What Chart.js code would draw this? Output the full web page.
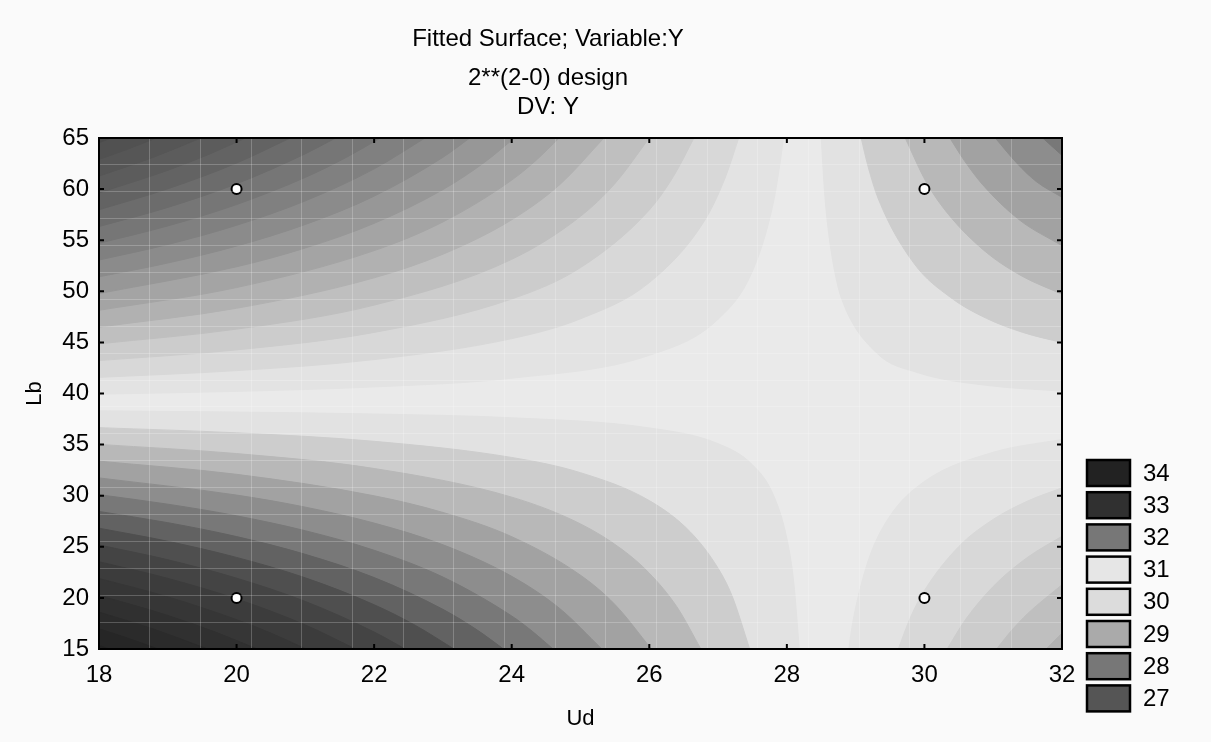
<!DOCTYPE html>
<html>
<head>
<meta charset="utf-8">
<title>Fitted Surface; Variable:Y</title>
<script src="https://cdn.jsdelivr.net/npm/chart.js@4.4.1/dist/chart.umd.min.js"></script>
<style>
    html, body { margin: 0; padding: 0; background: #fafafa; }
    #wrap { position: relative; width: 1211px; height: 742px; }
</style>
</head>
<body>
<div id="wrap"><canvas id="surfaceChart"></canvas></div>
<script>
// assi
const xTicks = [18, 20, 22, 24, 26, 28, 30, 32];
const yTicks = [15, 20, 25, 30, 35, 40, 45, 50, 55, 60, 65];

// punti del piano 2**(2-0)
const designUd = [20, 20, 30, 30];
const designLb = [20, 60, 20, 60];

// curve di livello, [Ud, Lb]
// angolo in basso a sinistra (valori alti, verso 34)
const lowerLeftLines = [
    [[18, 38.3], [20, 38.18], [22, 37.99], [24, 37.62], [26, 36.63], [27, 35.09], [27.5, 33.02], [27.8, 30.13], [28, 25.8], [28.1, 21.5], [28.18, 15]],
    [[18, 36.66], [20, 36.15], [22, 35.32], [24, 33.74], [25, 32.25], [26, 29.52], [26.6, 26.43], [27, 22.9], [27.2, 20.25], [27.46, 15]],
    [[18, 35.02], [20, 34.12], [22, 32.66], [24, 29.86], [25, 27.24], [25.6, 24.76], [26, 22.42], [26.4, 19.14], [26.75, 15]],
    [[18, 33.38], [20, 32.09], [22, 29.99], [23, 28.36], [24, 25.99], [25, 22.22], [25.5, 19.36], [26.03, 15]],
    [[18, 31.74], [20, 30.06], [21, 28.88], [22, 27.32], [23, 25.2], [24, 22.11], [24.7, 18.95], [25.31, 15]],
    [[18, 30.1], [19, 29.17], [20, 28.03], [21, 26.57], [22, 24.66], [23, 22.04], [24, 18.23], [24.3, 16.73], [24.6, 15]],
    [[18, 28.46], [19, 27.36], [20, 26.0], [21, 24.26], [22, 21.99], [23, 18.88], [23.5, 16.85], [23.88, 15]],
    [[18, 26.82], [19, 25.54], [20, 23.96], [21, 21.96], [22, 19.33], [22.6, 17.31], [23.16, 15]],
    [[18, 25.18], [19, 23.73], [20, 21.93], [21, 19.65], [22, 16.66], [22.45, 15]],
    [[18, 23.54], [19, 21.91], [20, 19.9], [21, 17.35], [21.73, 15]],
    [[18, 21.9], [19, 20.1], [20, 17.87], [20.5, 16.55], [21.01, 15]],
    [[18, 20.25], [19, 18.28], [19.7, 16.63], [20.3, 15]],
    [[18, 18.61], [18.8, 16.93], [19.58, 15]],
    [[18, 16.97], [18.4, 16.1], [18.86, 15]],
    [[18, 15.33], [18.15, 15]]
];
// angolo in alto a sinistra (valori bassi, verso 27)
const upperLeftLines = [
    [[18, 39.94], [20, 40.21], [22, 40.65], [24, 41.5], [26, 43.74], [27, 47.27], [27.5, 51.98], [27.8, 58.57], [27.9, 62.52], [27.95, 65]],
    [[18, 41.58], [20, 42.24], [22, 43.32], [24, 45.37], [25, 47.31], [26, 50.85], [26.8, 56.88], [27.1, 61.05], [27.3, 65]],
    [[18, 43.22], [20, 44.27], [22, 45.98], [24, 49.25], [25, 52.32], [26, 57.96], [26.35, 61.23], [26.65, 65]],
    [[18, 44.86], [20, 46.3], [22, 48.65], [24, 53.13], [25, 57.34], [25.5, 60.54], [26.0, 65]],
    [[18, 46.5], [20, 48.34], [22, 51.32], [23, 53.63], [24, 57.0], [24.7, 60.45], [25.34, 65]],
    [[18, 48.14], [20, 50.37], [22, 53.98], [23, 56.79], [24, 60.88], [24.35, 62.79], [24.69, 65]],
    [[18, 49.78], [20, 52.4], [21, 54.24], [22, 56.65], [23, 59.95], [23.6, 62.6], [24.04, 65]],
    [[18, 51.42], [19, 52.77], [20, 54.43], [21, 56.54], [22, 59.31], [23, 63.11], [23.39, 65]],
    [[18, 53.06], [19, 54.58], [20, 56.46], [21, 58.85], [22, 61.98], [22.74, 65]],
    [[18, 54.7], [19, 56.4], [20, 58.49], [21, 61.15], [21.6, 63.12], [22.09, 65]],
    [[18, 56.34], [19, 58.21], [20, 60.52], [21, 63.46], [21.44, 65]],
    [[18, 57.98], [19, 60.03], [20, 62.55], [20.78, 65]],
    [[18, 59.63], [19, 61.84], [19.6, 63.41], [20.13, 65]],
    [[18, 61.27], [18.8, 63.14], [19.48, 65]],
    [[18, 62.91], [18.4, 63.87], [18.83, 65]],
    [[18, 64.55], [18.18, 65]]
];
// angolo in alto a destra (valori alti)
const upperRightLines = [
    [[28.5, 65], [28.55, 59.6], [28.6, 56.13], [28.7, 51.8], [28.8, 49.2], [29.3, 44.0], [29.9, 42.05], [30.9, 40.8], [32, 40.24]],
    [[29.08, 65], [29.18, 62.23], [29.33, 59.04], [29.85, 52.71], [30.38, 49.4], [30.9, 47.36], [31.43, 45.98], [32, 44.98]],
    [[29.72, 65], [30.03, 60.64], [30.35, 57.52], [30.88, 53.92], [31.42, 51.48], [32, 49.72]],
    [[30.37, 65], [30.58, 62.79], [30.84, 60.48], [31.38, 56.99], [32, 54.46]],
    [[31.03, 65], [31.35, 62.49], [31.63, 60.72], [32, 59.2]],
    [[31.72, 65], [32, 63.3]]
];
// angolo in basso a destra (valori bassi)
const lowerRightLines = [
    [[28.9, 15], [28.95, 17.24], [29.0, 19.03], [29.2, 23.97], [29.5, 28.02], [30, 31.39], [31, 34.24], [32, 35.51]],
    [[29.62, 15], [29.8, 18.14], [30, 20.72], [30.5, 25.03], [31, 27.68], [31.5, 29.47], [32, 30.77]],
    [[30.33, 15], [30.6, 17.9], [31, 21.12], [31.5, 23.97], [32, 26.03]],
    [[31.05, 15], [31.25, 16.68], [31.5, 18.46], [32, 21.29]],
    [[31.77, 15], [32, 16.55]]
];

// toni di grigio delle fasce
const saddleColor = '#eaeaea';
const highColors = ['#e2e2e2', '#cdcdcd', '#b8b8b8', '#a2a2a2', '#8d8d8d', '#787878', '#626262', '#4f4f4f',
    '#444444', '#3c3c3c', '#363636', '#303030', '#2b2b2b', '#262626', '#222222'];
const lowColors = ['#e3e3e3', '#d8d8d8', '#cccccc', '#bfbfbf', '#b1b1b1', '#a4a4a4', '#979797', '#8b8b8b',
    '#808080', '#767676', '#6c6c6c', '#636363', '#5c5c5c', '#565656', '#515151', '#4c4c4c'];

// legenda
const legendLevels = ['34', '33', '32', '31', '30', '29', '28', '27'];
const legendColors = ['#222222', '#303030', '#777777', '#e6e6e6', '#dcdcdc', '#aaaaaa', '#777777', '#555555'];

const FONT = 'Liberation Sans, Arial, sans-serif';

function bandDataset(line, color, fillTo) {
    return {
        type: 'line',
        data: line.map(p => ({ x: p[0], y: p[1] })),
        borderColor: color,
        backgroundColor: color,
        borderWidth: 1,
        pointRadius: 0,
        fill: fillTo,
        cubicInterpolationMode: 'monotone'
    };
}

function buildDatasets() {
    const bands = [];
    lowerLeftLines.forEach((l, i) => bands.push(bandDataset(l, highColors[i], 'start')));
    upperRightLines.forEach((l, i) => bands.push(bandDataset(l, highColors[i], 'end')));
    upperLeftLines.forEach((l, i) => bands.push(bandDataset(l, lowColors[i], 'end')));
    lowerRightLines.forEach((l, i) => bands.push(bandDataset(l, lowColors[i], 'start')));
    // il primo disegnato deve avere order piu alto
    bands.forEach((d, i) => { d.order = bands.length - i + 1; });

    bands.push({
        type: 'scatter',
        data: designUd.map((u, i) => ({ x: u, y: designLb[i] })),
        pointRadius: 5,
        pointBackgroundColor: '#ffffff',
        pointBorderColor: '#000000',
        pointBorderWidth: 2,
        order: 0
    });
    return bands;
}

const framePlugin = {
    id: 'frame',
    beforeDraw(chart) {
        const a = chart.chartArea;
        const ctx = chart.ctx;
        ctx.save();
        ctx.fillStyle = saddleColor;
        ctx.fillRect(a.left, a.top, a.right - a.left, a.bottom - a.top);
        ctx.restore();
    },
    afterDraw(chart) {
        const a = chart.chartArea;
        const ctx = chart.ctx;
        const xs = chart.scales.x, ys = chart.scales.y;
        ctx.save();
        ctx.strokeStyle = '#000';
        ctx.lineWidth = 2;
        ctx.strokeRect(a.left, a.top, a.right - a.left, a.bottom - a.top);

        // tacche verso l'interno su tutti i lati
        ctx.beginPath();
        xTicks.forEach(v => {
            const px = xs.getPixelForValue(v);
            ctx.moveTo(px, a.bottom); ctx.lineTo(px, a.bottom - 5);
            ctx.moveTo(px, a.top); ctx.lineTo(px, a.top + 5);
        });
        yTicks.forEach(v => {
            const py = ys.getPixelForValue(v);
            ctx.moveTo(a.left, py); ctx.lineTo(a.left + 5, py);
            ctx.moveTo(a.right, py); ctx.lineTo(a.right - 5, py);
        });
        ctx.stroke();

        // legenda
        const lx = 1087, ly = 460, bw = 43, bh = 26, gap = 32.2;
        ctx.font = '24px ' + FONT;
        ctx.textBaseline = 'middle';
        ctx.textAlign = 'left';
        legendLevels.forEach((lab, i) => {
            const y = ly + i * gap;
            ctx.fillStyle = legendColors[i];
            ctx.fillRect(lx, y, bw, bh);
            ctx.lineWidth = 2.5;
            ctx.strokeStyle = '#000';
            ctx.strokeRect(lx, y, bw, bh);
            ctx.fillStyle = '#000';
            ctx.fillText(lab, 1143, y + bh / 2 + 1);
        });
        ctx.restore();
    }
};

document.addEventListener('DOMContentLoaded', () => {
    Chart.defaults.font.family = FONT;
    Chart.defaults.color = '#000';

    const meshGrid = {
        color: 'rgba(255,255,255,0.22)',
        lineWidth: 1,
        drawTicks: false,
        z: 1
    };

    new Chart(document.getElementById('surfaceChart'), {
        type: 'scatter',
        data: { datasets: buildDatasets() },
        plugins: [framePlugin],
        options: {
            responsive: true,
            maintainAspectRatio: false,
            animation: false,
            events: [],
            layout: { padding: { left: 34, right: 149, top: 0, bottom: 5.8 } },
            plugins: {
                legend: { display: false },
                tooltip: { enabled: false },
                title: {
                    display: true,
                    text: 'Fitted Surface; Variable:Y',
                    font: { size: 24, weight: 'normal' },
                    color: '#000',
                    padding: { top: 25, bottom: 0 }
                },
                subtitle: {
                    display: true,
                    text: ['2**(2-0) design', 'DV: Y'],
                    font: { size: 24, weight: 'normal' },
                    color: '#000',
                    padding: { top: 10, bottom: 16.6 }
                }
            },
            scales: {
                x: {
                    type: 'linear',
                    min: 18,
                    max: 32,
                    afterBuildTicks: s => { s.ticks = xTicks.map(v => ({ value: v })); },
                    afterFit: s => { s.height = 87.2; },
                    ticks: { font: { size: 24 }, color: '#000', padding: 12, maxRotation: 0, autoSkip: false },
                    grid: { display: false, drawTicks: false },
                    border: { display: false },
                    title: { display: true, text: 'Ud', font: { size: 22 }, color: '#000', padding: { top: 16, bottom: 4 } }
                },
                y: {
                    type: 'linear',
                    min: 15,
                    max: 65,
                    afterBuildTicks: s => { s.ticks = yTicks.map(v => ({ value: v })); },
                    afterFit: s => { s.width = 65; },
                    ticks: { font: { size: 24 }, color: '#000', padding: 10, autoSkip: false },
                    grid: { display: false, drawTicks: false },
                    border: { display: false },
                    title: { display: true, text: 'Lb', font: { size: 22 }, color: '#000', padding: { top: -12, bottom: 14 } }
                },
                // maglia della superficie interpolata (19 x 19)
                xm: {
                    type: 'linear',
                    position: 'top',
                    min: 18,
                    max: 32,
                    afterBuildTicks: s => { s.ticks = Array.from({ length: 20 }, (_, k) => ({ value: 18 + k * 14 / 19 })); },
                    afterFit: s => { s.height = 0; },
                    ticks: { display: false },
                    grid: meshGrid,
                    border: { display: false }
                },
                ym: {
                    type: 'linear',
                    position: 'right',
                    min: 15,
                    max: 65,
                    afterBuildTicks: s => { s.ticks = Array.from({ length: 20 }, (_, k) => ({ value: 15 + k * 50 / 19 })); },
                    afterFit: s => { s.width = 0; },
                    ticks: { display: false },
                    grid: meshGrid,
                    border: { display: false }
                }
            }
        }
    });
});
</script>
</body>
</html>
